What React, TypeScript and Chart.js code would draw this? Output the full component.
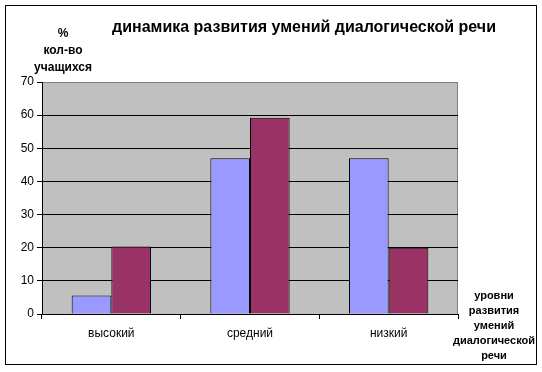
import React, { useEffect, useRef } from "react";
import { Chart, registerables } from "chart.js";

Chart.register(...registerables);

const categories = ["высокий", "средний", "низкий"];
const seriesA = [5.6, 47, 47];
const seriesB = [20.4, 59.2, 20];
const yTicks = [0, 10, 20, 30, 40, 50, 60, 70];
const titleText = "динамика развития умений диалогической речи";
const yTitleLines = ["%", "кол-во", "учащихся"];
const xTitleLines = ["уровни", "развития", "умений", "диалогической", "речи"];

const FONT = "Arial, 'Liberation Sans', sans-serif";

export default function App() {
  const ref = useRef<HTMLCanvasElement | null>(null);
  useEffect(() => {
    document.body.style.margin = "0";
    const canvas = ref.current!;
    const decor = {
      id: "decor",
      beforeDraw(chart: any) {
        const { ctx, chartArea } = chart;
        ctx.save();
        ctx.fillStyle = "#ffffff";
        ctx.fillRect(0, 0, chart.width, chart.height);
        ctx.fillStyle = "#C0C0C0";
        ctx.fillRect(chartArea.left, chartArea.top, chartArea.right - chartArea.left, chartArea.bottom - chartArea.top);
        ctx.strokeStyle = "#808080";
        ctx.lineWidth = 1;
        ctx.strokeRect(chartArea.left + 0.5, chartArea.top + 0.5, chartArea.right - chartArea.left - 1, chartArea.bottom - chartArea.top);
        ctx.restore();
      },
      afterDraw(chart: any) {
        const { ctx } = chart;
        ctx.save();
        ctx.strokeStyle = "#000";
        ctx.lineWidth = 1;
        ctx.strokeRect(5.5, 5.5, 531, 359);
        ctx.fillStyle = "#000";
        ctx.textAlign = "center";
        ctx.textBaseline = "middle";
        ctx.font = `bold 16px ${FONT}`;
        ctx.fillText(titleText, 304, 28);
        ctx.font = `bold 12px ${FONT}`;
        yTitleLines.forEach((t, i) => ctx.fillText(t, 63, 34 + i * 17));
        ctx.font = `bold 11px ${FONT}`;
        xTitleLines.forEach((t, i) => ctx.fillText(t, 494, 296 + i * 15));
        ctx.restore();
      },
    };
    const chart = new Chart(canvas, {
      type: "bar",
      data: {
        labels: categories,
        datasets: [
          { label: "A", data: seriesA, backgroundColor: "#9999FF", borderColor: "#000", borderWidth: 1, categoryPercentage: 0.572, barPercentage: 1 },
          { label: "B", data: seriesB, backgroundColor: "#993366", borderColor: "#000", borderWidth: 1, categoryPercentage: 0.572, barPercentage: 1 },
        ],
      },
      options: {
        animation: false,
        responsive: false,
        layout: { padding: { left: 0, top: 82, right: 84, bottom: 0 } },
        plugins: { legend: { display: false }, title: { display: false }, tooltip: { enabled: false } },
        scales: {
          x: {
            offset: true,
            grid: { offset: true, drawOnChartArea: false, drawTicks: true, tickLength: 5, tickColor: "#000" },
            border: { display: true, color: "#000", width: 1 },
            ticks: { color: "#000", font: { family: FONT, size: 12 }, padding: 7, maxRotation: 0 },
            afterFit: (s: any) => { s.height = 58; },
          },
          y: {
            min: 0,
            max: 70,
            afterBuildTicks: (s: any) => { s.ticks = yTicks.map((v) => ({ value: v })); },
            grid: {
              color: (c: any) => (c.tick && c.tick.value === 70 ? "rgba(0,0,0,0)" : "#000"),
              tickColor: "#000",
              tickLength: 5,
              lineWidth: 1,
            },
            border: { display: true, color: "#000", width: 1 },
            ticks: { color: "#000", font: { family: FONT, size: 12 }, padding: 3 },
            afterFit: (s: any) => { s.width = 42; },
          },
        },
      },
      plugins: [decor],
    } as any);
    return () => chart.destroy();
  }, []);
  return <canvas ref={ref} width={542} height={372} style={{ display: "block" }} />;
}
